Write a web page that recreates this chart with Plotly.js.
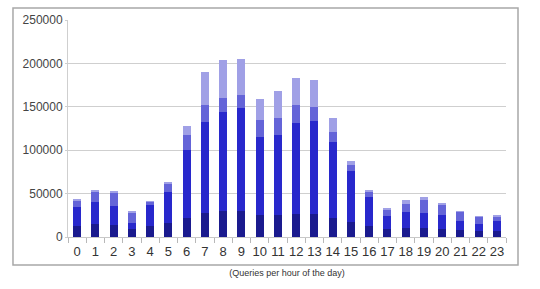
<!DOCTYPE html>
<html>
<head>
<meta charset="utf-8">
<script src="https://cdn.plot.ly/plotly-3.0.1.min.js"></script>
<style>
html,body{margin:0;padding:0;background:#fff;}
#chart{width:540px;height:289px;}
</style>
</head>
<body>
<div id="chart"></div>
<script>
var hours = ["0","1","2","3","4","5","6","7","8","9","10","11","12","13","14","15","16","17","18","19","20","21","22","23"];
// stacked segment heights (bottom to top)
var navySeg  = [13000,15000,14000,9000,13000,16000,22000,28000,30000,30000,25000,25000,27000,27000,22000,17000,13000,9000,10000,10000,9000,8000,7000,7000];
var blueSeg  = [21500,25000,22000,7500,23500,36000,78000,105000,114000,119000,90000,92500,104000,107000,88000,59000,33500,15500,19000,18000,16000,11000,8500,11000];
var midSeg   = [7500,11500,14500,11500,4000,9000,18000,19000,16000,15000,20000,19500,21000,16000,11000,7000,5000,6500,9000,15000,11500,9500,7000,5500];
var capSeg   = [2000,2500,2500,2000,1500,2500,10000,38000,43500,40500,24500,31500,31000,31000,16000,4000,2500,2500,4500,3000,2500,2000,2000,2000];
var yTicks = [0,50000,100000,150000,200000,250000];

function seg(vals, color){
  return {type:"bar", x:hours, y:vals, marker:{color:color, line:{width:0}}, hoverinfo:"y", showlegend:false};
}
var data = [
  seg(navySeg, "#1a1a8e"),
  seg(blueSeg, "#2828cc"),
  seg(midSeg,  "#6464d8"),
  seg(capSeg,  "#a0a0e6")
];

var layout = {
  width:540, height:289,
  margin:{l:68, r:34, t:20, b:52},
  paper_bgcolor:"#ffffff", plot_bgcolor:"#ffffff",
  barmode:"stack", bargap:0.57,
  font:{family:"Liberation Sans, Arial, sans-serif", color:"#333333"},
  xaxis:{
    type:"category", tickvals:hours, ticktext:hours, tickangle:0,
    ticks:"outside", tickson:"boundaries", ticklen:5, tickcolor:"#b8b8b8",
    ticklabelstandoff:2,
    showline:true, linecolor:"#c8c8c8", linewidth:1,
    showgrid:false, tickfont:{size:13, color:"#333333"},
    title:{text:"(Queries per hour of the day)", font:{size:9, color:"#333333"}, standoff:12}
  },
  yaxis:{
    range:[0,250000], tickvals:yTicks, ticktext:yTicks.map(String),
    showgrid:true, gridcolor:"#cfcfcf", gridwidth:1,
    showline:true, linecolor:"#cfcfcf", linewidth:1,
    ticks:"outside", ticklen:2, tickcolor:"#cfcfcf",
    tickfont:{size:12, color:"#444444"}, zeroline:false
  },
  shapes:[{
    type:"rect", xref:"paper", yref:"paper",
    x0:-0.1256, x1:1.0274, y0:-0.129, y1:1.0553,
    line:{color:"#a8a8a8", width:1.5}, layer:"below"
  }]
};
Plotly.newPlot("chart", data, layout, {displayModeBar:false, staticPlot:true});
</script>
</body>
</html>
